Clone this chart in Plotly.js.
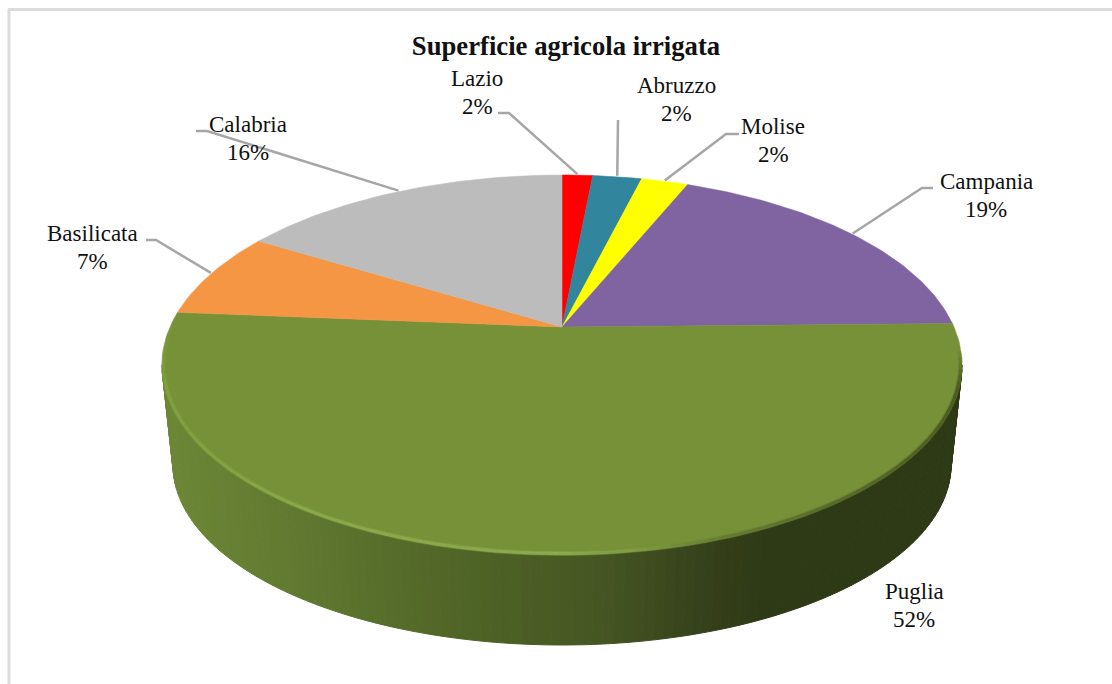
<!DOCTYPE html>
<html><head><meta charset="utf-8">
<script src="https://cdn.plot.ly/plotly-3.0.1.min.js"></script>
<style>html,body{margin:0;padding:0;background:#fff}#c{width:1112px;height:684px}</style>
</head><body><div id="c"></div>
<script>
const categories = ['Lazio','Abruzzo','Molise','Campania','Puglia','Basilicata','Calabria'];
const shares = [1.5,2.4,2.3,18.5,51.6,7.4,16.3];
const colors = ['#ff0000','#31859c','#ffff00','#8064a2','#779138','#f59645','#bcbcbc'];
const labelCenters = [[477,92],[676,99],[773,140],[986,195],[914,605],[92,247],[248,138]];
const leaderElbows = [[[498,113],[509,113]],[[618,120],[618,120]],[[739,134],[726,134]],[[933,188],[922,188]],null,[[146,240],[156,240]],[[196,131],[207,131]]];

const cx=562, cy0=327, R=392, S=182.4, P=0.2;
const project = deg => { const a=deg*Math.PI/180, u=Math.sin(a), w=Math.cos(a), d=1+P*w;
  return [cx+R*u/d, cy0-S*w/d]; };
const total = shares.reduce((a,b)=>a+b,0);

function col(stops,x){
  if(x<=stops[0][0]) return 'rgb('+stops[0][1].join(',')+')';
  for(let i=1;i<stops.length;i++) if(x<=stops[i][0]){
    const t=(x-stops[i-1][0])/(stops[i][0]-stops[i-1][0]), A=stops[i-1][1], B=stops[i][1];
    return 'rgb('+A.map((v,k)=>Math.round(v+(B[k]-v)*t)).join(',')+')';
  }
  return 'rgb('+stops[stops.length-1][1].join(',')+')';
}
const wallStops = [[170,[108,134,54]],[300,[96,120,48]],[450,[80,101,39]],[600,[70,86,35]],[700,[54,66,27]],[770,[46,57,22]],[960,[46,57,22]]];
const rimStops = [[160,[128,160,62]],[300,[140,172,76]],[560,[142,172,80]],[650,[126,152,64]],[720,[100,122,48]],[820,[86,104,40]],[965,[70,85,33]]];

const traces=[];
// side wall, strip by strip, under the top face
const N=120;
for(let i=0;i<N;i++){
  const p0=i/N*Math.PI,p1=(i+1)/N*Math.PI;
  const xs=[562+400*Math.cos(p0),562+400*Math.cos(p1),562+389*Math.cos(p1),562+389*Math.cos(p0)];
  const ys=[365+190*Math.sin(p0),365+190*Math.sin(p1),465+180*Math.sin(p1),465+180*Math.sin(p0)];
  const c=col(wallStops,(xs[0]+xs[1])/2);
  traces.push({type:'scatter',mode:'lines',x:[...xs,xs[0]],y:[...ys,ys[0]],fill:'toself',fillcolor:c,line:{color:c,width:1},hoverinfo:'skip',showlegend:false});
}
// top face, one wedge per category
let cum=0;
const mids=[];
shares.forEach((v,i)=>{
  const a0=cum/total*360, a1=(cum+v)/total*360; cum+=v;
  mids.push((a0+a1)/2);
  const xs=[cx], ys=[cy0];
  const n=Math.max(4,Math.ceil(a1-a0));
  for(let k=0;k<=n;k++){const p=project(a0+(a1-a0)*k/n);xs.push(p[0]);ys.push(p[1]);}
  xs.push(cx);ys.push(cy0);
  traces.push({type:'scatter',mode:'lines',x:xs,y:ys,fill:'toself',fillcolor:colors[i],line:{color:colors[i],width:0.5},name:categories[i],hoverinfo:'name',showlegend:false});
});
// soft bevel on the front edge of the top face
const M=110;
for(let i=0;i<M;i++){
  const deg=-6+i/M*200, p0=deg*Math.PI/180, p1=(-6+(i+1)/M*200)*Math.PI/180;
  const x0=562+398.5*Math.cos(p0),x1=562+398.5*Math.cos(p1);
  const y0=365+188.5*Math.sin(p0),y1=365+188.5*Math.sin(p1);
  const c=col(rimStops,(x0+x1)/2);
  const fade=deg>172?Math.max(0,(194-deg)/22):(deg<6?Math.max(0,(deg+6)/12):1);
  traces.push({type:'scatter',mode:'lines',x:[x0,x1],y:[y0,y1],line:{color:c,width:5},opacity:0.3*fade,hoverinfo:'skip',showlegend:false});
  traces.push({type:'scatter',mode:'lines',x:[x0,x1],y:[y0,y1],line:{color:c,width:3},opacity:0.85*fade,hoverinfo:'skip',showlegend:false});
}
// leader lines end on the outer edge of each wedge
leaderElbows.forEach((e,i)=>{
  if(!e) return;
  const end=project(mids[i]);
  traces.push({type:'scatter',mode:'lines',x:[e[0][0],e[1][0],end[0]],y:[e[0][1],e[1][1],end[1]-1],line:{color:'#a6a6a6',width:2.5},hoverinfo:'skip',showlegend:false});
});

const serif='"Liberation Serif","Times New Roman",serif';
const labelFont={family:serif,size:23,color:'#111'};
const annotations=[];
categories.forEach((c,i)=>{
  const base={xref:'x',yref:'y',x:labelCenters[i][0],xanchor:'center',yanchor:'middle',showarrow:false,font:labelFont};
  annotations.push({...base,y:labelCenters[i][1]-14,text:c});
  annotations.push({...base,y:labelCenters[i][1]+14,text:Math.round(shares[i])+'%'});
});

Plotly.newPlot('c',traces,{
  width:1112,height:684,margin:{l:0,r:0,t:0,b:0},
  paper_bgcolor:'#fff',plot_bgcolor:'#fff',showlegend:false,
  title:{text:'<b>Superficie agricola irrigata</b>',x:566/1112,xanchor:'center',y:1-45.5/684,yanchor:'middle',font:{family:serif,size:26.7,color:'#111'}},
  xaxis:{range:[0,1112],visible:false,fixedrange:true},
  yaxis:{range:[684,0],visible:false,fixedrange:true},
  annotations,
  shapes:[
    {type:'line',xref:'x',yref:'y',x0:9,y0:9,x1:9,y1:684,line:{color:'#dcdcdc',width:3}},
    {type:'line',xref:'x',yref:'y',x0:8,y0:9.5,x1:1112,y1:9.5,line:{color:'#dcdcdc',width:3}}
  ]
},{displayModeBar:false,staticPlot:true});
</script></body></html>
